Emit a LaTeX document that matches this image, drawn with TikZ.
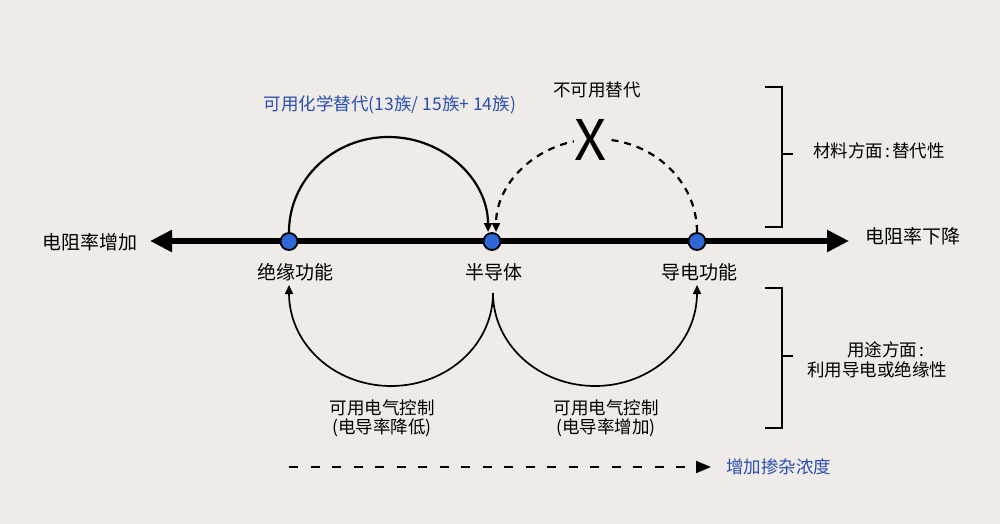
\documentclass[tikz,border=0pt]{standalone}
\usepackage{fontspec}
\setmainfont{Noto Sans CJK SC}
\usetikzlibrary{arrows.meta}
\definecolor{bg}{HTML}{EEEBE8}
\definecolor{dotblue}{HTML}{2F67D6}
\definecolor{txtblue}{HTML}{2A4FB0}
\tikzset{
  dot/.style={circle,fill=dotblue,draw=black,line width=1.8pt,minimum size=17pt,inner sep=0pt},
  lbl/.style={font=\fontsize{19}{22}\selectfont,inner sep=0pt},
  sidelbl/.style={font=\fontsize{17.5}{19}\selectfont,inner sep=0pt,align=center},
  smalltip/.style={-{Triangle[length=9pt,width=8pt]}},
  arcline/.style={line width=2.2pt,smalltip},
  lowarc/.style={line width=1.7pt,smalltip},
  brk/.style={line width=1.5pt}
}
\begin{document}
\begin{tikzpicture}[x=1pt,y=-1pt]
\fill[bg] (0,0) rectangle (1000,524);
\useasboundingbox (0,0) rectangle (1000,524);
% axis
\coordinate (axL) at (150,241);
\coordinate (axR) at (849,241);
\draw[line width=6.5pt,{Triangle[length=22pt,width=21pt]}-{Triangle[length=22pt,width=21pt]}] (axL) -- (axR);
\node[lbl,anchor=east] (inc) at (138,242) {电阻率增加};
\node[lbl,anchor=west] (dec) at (865,236) {电阻率下降};
% upper arcs
\coordinate (a1) at (289,232);
\draw[arcline] (a1) arc[start angle=180,end angle=360,x radius=99.5,y radius=95];
\coordinate (b1) at (697,232);
\draw[line width=2.2pt,dash pattern=on 7pt off 6pt,smalltip] (b1) arc[start angle=0,end angle=-180,x radius=100.5,y radius=93];
\node[font=\fontsize{56}{56}\selectfont,inner sep=1pt,fill=bg] (x) at (591,140) {X};
\node[sidelbl] (notsub) at (597,90) {不可用替代};
\node[sidelbl,text=txtblue] (chem) at (390,105) {可用化学替代(13族/ 15族+ 14族)};
% dots
\node[dot] (ins) at (289,241.5) {};
\node[dot] (semi) at (492,241.5) {};
\node[dot] (cond) at (697,241.5) {};
\node[lbl] (insl) at (295,272) {绝缘功能};
\node[lbl] (semil) at (494,272) {半导体};
\node[lbl] (condl) at (699,272) {导电功能};
% lower arcs
\coordinate (c0) at (493,293);
\draw[lowarc] (c0) arc[start angle=0,end angle=180,x radius=102,y radius=93] -- ++(0,-8);
\draw[lowarc] (c0) arc[start angle=180,end angle=0,x radius=102,y radius=93] -- ++(0,-8);
\node[sidelbl] (e1) at (382,418) {可用电气控制\\(电导率降低)};
\node[sidelbl] (e2) at (606,418) {可用电气控制\\(电导率增加)};
% dashed arrow
\coordinate (d1) at (289,467);
\coordinate (d2) at (711,467);
\draw[line width=2pt,dash pattern=on 9pt off 12.5pt,-{Triangle[length=15pt,width=12pt]}] (d1) -- (d2);
\node[sidelbl,text=txtblue,anchor=west] (dope) at (726,467) {增加掺杂浓度};
% brackets
\draw[brk] (765,87) -- (782,87) -- (782,227) -- (765,227);
\draw[brk] (782,154) -- (793,154);
\draw[brk] (765,288) -- (782,288) -- (782,428) -- (765,428);
\draw[brk] (782,356) -- (793,356);
\node[sidelbl,anchor=west] (mat) at (813,151) {材料方面\hspace{2pt}:\hspace{2pt}替代性};
\node[sidelbl,anchor=west] (use1) at (847,350) {用途方面\hspace{2pt}:};
\node[sidelbl] (use2) at (877,370) {利用导电或绝缘性};
\end{tikzpicture}
\end{document}
